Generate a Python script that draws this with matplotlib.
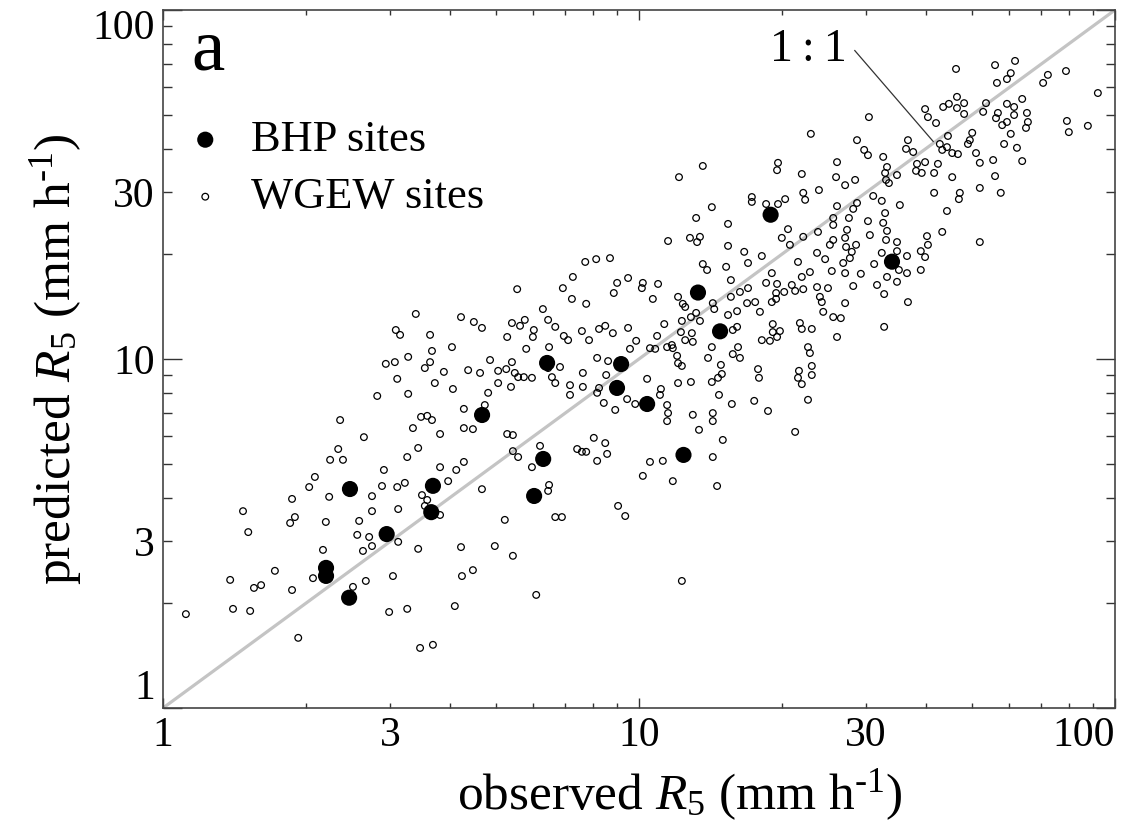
import matplotlib
matplotlib.use("Agg")
import matplotlib.pyplot as plt
import numpy as np

plt.rcParams["font.family"] = ["Liberation Serif", "DejaVu Serif"]
plt.rcParams["mathtext.fontset"] = "custom"
plt.rcParams["mathtext.rm"] = "Liberation Serif"
plt.rcParams["mathtext.it"] = "Liberation Serif:italic"

# BHP sites, R5 in mm/h
bhp_obs = [2.47, 2.20, 2.20, 2.46, 2.95, 3.66, 3.69, 4.68, 6.02, 6.29,
           6.41, 8.99, 9.17, 10.4, 12.4, 13.3, 14.8, 18.9, 34.0]
bhp_pred = [4.24, 2.52, 2.39, 2.07, 3.15, 3.64, 4.33, 6.91, 4.05, 5.17,
            9.74, 8.26, 9.67, 7.43, 5.31, 15.5, 12.0, 25.9, 19.0]

# WGEW sites, log10 of R5 (mm/h)
wgew_log_obs = [
    0.048, 0.147, 0.183, 0.284, 0.475, 0.513, 0.540, 0.567, 0.613,
    0.372, 0.422, 0.368, 0.351, 0.378, 0.319, 0.307, 0.349, 0.271, 0.277,
    0.267, 0.342, 0.168, 0.179, 0.336, 0.315, 0.235, 0.141, 0.191, 0.206,
    0.271, 0.399, 0.426, 0.483, 0.628, 0.651, 0.536, 0.494, 0.439, 0.420,
    0.408, 0.433, 0.412, 0.439, 0.494, 0.439, 0.460, 0.492, 0.508, 0.464,
    0.513, 0.536, 0.525, 0.542, 0.555, 0.565, 0.582, 0.632, 0.632, 0.651,
    0.676, 0.723, 0.632, 0.616, 0.582, 0.599, 0.544, 0.555, 0.582, 0.550,
    0.670, 0.626, 0.697, 0.718,
    0.531, 0.626, 0.653, 0.670, 0.489, 0.498, 0.561, 0.607, 0.565, 0.515,
    0.487, 0.468, 0.561, 0.550, 0.590, 0.641, 0.666, 0.687, 0.492, 0.571,
    0.609, 0.683, 0.450, 0.515, 0.704, 0.704,
    0.887, 0.910, 0.939, 1.134, 1.143, 1.183, 1.229, 1.258, 1.221, 1.334,
    1.374, 1.391, 1.429, 1.433, 1.405, 1.359, 1.342,
    0.744, 0.840, 0.861, 0.859, 0.889, 0.798, 0.809, 0.947, 0.954, 0.977,
    1.008, 1.006, 1.040, 1.029, 1.082, 1.092, 1.097, 1.120, 1.109, 1.128,
    1.155, 1.158, 1.193, 1.193, 1.187, 1.206, 1.212, 1.229, 1.227, 1.244,
    1.254, 1.267, 1.279, 1.290, 1.288, 1.288, 1.279, 1.305, 1.321, 1.328,
    1.345, 1.374, 1.380, 1.384, 1.397, 1.387, 1.408, 1.424, 1.433,
    0.733, 0.750, 0.760, 0.779, 0.777, 0.723, 0.763, 0.733, 0.811, 0.824,
    0.842, 0.851, 0.880, 0.895, 0.916, 0.929, 0.945, 0.977, 0.994, 0.981,
    0.912, 0.935, 1.038, 1.023, 1.034, 1.059, 1.069, 1.071, 1.053, 1.090,
    1.088, 1.111, 1.097, 1.113, 1.080, 1.082, 1.090, 1.145, 1.153, 1.172,
    1.174, 1.166, 1.206, 1.197, 1.208, 1.197, 1.212, 1.250, 1.252, 1.258,
    1.275, 1.281, 1.281, 1.296, 1.290, 1.338, 1.342, 1.363, 1.355, 1.359,
    1.363, 1.363, 1.336, 1.334, 1.342, 1.355, 1.416,
    0.721, 0.739, 0.746, 0.758, 0.775, 0.731, 0.809, 0.817, 0.824, 0.834,
    0.855, 0.855, 0.882, 0.882, 0.916, 0.912, 0.926, 0.931, 0.950, 0.975,
    0.992, 1.017, 1.046, 1.044, 1.059, 1.061, 1.059, 1.082, 1.109, 1.113,
    1.126, 1.153, 1.155, 1.155, 1.168, 1.195, 1.176, 1.155, 1.164, 1.242,
    1.271, 1.328, 0.735, 0.735, 0.746, 0.775, 0.792, 0.811, 0.809, 0.870,
    0.880, 0.889, 0.905, 0.929, 0.933, 0.912, 1.023, 1.050, 1.008, 1.071,
    0.956, 0.971, 0.824, 0.838,
    0.735, 0.784, 1.090,
    1.361, 1.292, 1.290, 1.342, 1.416, 1.414, 1.433, 1.134, 1.084, 1.378,
    1.345, 1.349, 1.307, 1.237, 1.237, 1.267, 1.292, 1.153, 1.120, 1.187,
    1.416, 1.408, 1.408, 1.313, 1.300, 1.345, 1.376, 1.433, 1.437, 1.061,
    1.107, 1.128, 1.122, 1.187, 1.317,
    1.408, 1.401, 1.485, 1.521, 1.519, 1.542, 1.605, 1.637, 1.607, 1.592,
    1.601, 1.716, 1.435, 1.456, 1.447, 1.443, 1.466, 1.494, 1.510, 1.542,
    1.563, 1.546, 1.563, 1.592, 1.521, 1.542, 1.500, 1.450, 1.515, 1.565,
    1.515,
    1.666, 1.748, 1.790, 1.781, 1.773, 1.752, 1.859, 1.849, 1.897, 1.964,
    1.483, 1.601, 1.607, 1.624, 1.639, 1.651, 1.668, 1.668, 1.683, 1.683,
    1.723, 1.729, 1.754, 1.750, 1.763, 1.773, 1.773, 1.788, 1.788, 1.805,
    1.815, 1.817, 1.813, 1.781, 1.794, 1.805, 1.899, 1.903, 1.943, 1.649,
    1.647, 1.637, 1.658, 1.670, 1.632, 1.700, 1.695, 1.691, 1.708, 1.716,
    1.744, 1.767, 1.748, 1.760, 1.716, 1.674, 1.672, 1.647, 1.620, 1.658,
    1.628, 1.620, 1.601, 1.584, 1.594, 1.576, 1.561, 1.565, 1.582, 1.542,
    1.548, 1.521, 1.517, 1.519, 1.525, 1.513, 1.492, 1.510, 1.517, 1.513,
    1.481, 1.458, 1.450, 1.441, 1.454, 1.458, 1.473, 1.481,
]
wgew_log_pred = [
    0.269, 0.284, 0.278, 0.201, 0.275, 0.284, 0.172, 0.181, 0.292,
    0.825, 0.776, 0.742, 0.711, 0.711, 0.662, 0.633, 0.605, 0.599, 0.547,
    0.530, 0.533, 0.564, 0.504, 0.453, 0.372, 0.393, 0.367, 0.344, 0.352,
    0.338, 0.347, 0.364, 0.378, 0.378, 0.395, 0.456, 0.476, 0.464, 0.450,
    0.496, 0.490, 0.536, 0.564, 0.570, 0.607, 0.636, 0.633, 0.645, 0.682,
    0.719, 0.745, 0.802, 0.834, 0.837, 0.825, 0.785, 0.857, 0.802, 0.799,
    0.868, 0.785, 0.705, 0.682, 0.690, 0.650, 0.610, 0.596, 0.553, 0.579,
    0.627, 0.461, 0.464, 0.539,
    1.129, 1.120, 1.106, 1.089, 1.083, 1.069, 1.069, 1.034, 1.023, 1.006,
    0.991, 0.986, 0.991, 0.974, 0.963, 0.968, 0.960, 0.997, 0.943, 0.931,
    0.914, 0.903, 0.894, 0.900, 0.966, 0.931,
    1.278, 1.286, 1.289, 1.272, 1.255, 1.264, 1.275, 1.295, 1.307, 1.278,
    1.304, 1.286, 1.275, 1.246, 1.252, 1.249, 1.235,
    1.200, 1.203, 1.235, 1.172, 1.158, 1.143, 1.112, 1.189, 1.218, 1.232,
    1.218, 1.203, 1.215, 1.172, 1.178, 1.158, 1.149, 1.132, 1.120, 1.109,
    1.160, 1.143, 1.226, 1.178, 1.126, 1.137, 1.192, 1.203, 1.160, 1.163,
    1.135, 1.218, 1.246, 1.215, 1.189, 1.172, 1.163, 1.192, 1.212, 1.195,
    1.200, 1.206, 1.178, 1.163, 1.203, 1.135, 1.120, 1.117, 1.160,
    1.103, 1.095, 1.112, 1.083, 1.063, 1.063, 1.029, 0.991, 1.034, 1.092,
    1.066, 1.054, 1.080, 1.054, 1.086, 1.095, 1.074, 1.089, 1.052, 1.029,
    1.003, 0.994, 1.066, 1.031, 1.029, 1.034, 1.040, 1.031, 1.100, 1.109,
    1.077, 1.074, 1.054, 1.049, 1.009, 0.988, 0.980, 1.003, 1.034, 0.983,
    0.957, 0.946, 1.092, 1.083, 1.034, 1.014, 1.003, 0.971, 0.946, 1.054,
    1.052, 1.100, 1.077, 1.080, 1.063, 1.103, 1.086, 1.086, 1.034, 1.017,
    0.980, 0.954, 0.966, 0.946, 0.928, 0.883, 1.063,
    0.971, 0.960, 0.948, 0.948, 0.946, 0.920, 0.974, 0.948, 0.931, 0.977,
    0.925, 0.897, 0.920, 0.960, 0.917, 0.903, 0.874, 0.954, 0.854, 0.885,
    0.871, 0.943, 0.914, 0.897, 0.868, 0.845, 0.822, 0.931, 0.934, 0.840,
    0.797, 0.934, 0.845, 0.822, 0.897, 0.871, 0.768, 0.719, 0.636, 0.880,
    0.851, 0.791, 0.782, 0.736, 0.719, 0.690, 0.751, 0.639, 0.622, 0.742,
    0.734, 0.734, 0.774, 0.759, 0.728, 0.708, 0.705, 0.708, 0.665, 0.650,
    0.579, 0.550, 0.547, 0.547,
    0.436, 0.324, 0.364,
    1.645, 1.562, 1.541, 1.530, 1.564, 1.521, 1.498, 1.553, 1.521, 1.484,
    1.476, 1.456, 1.458, 1.464, 1.450, 1.444, 1.444, 1.435, 1.404, 1.387,
    1.438, 1.404, 1.384, 1.372, 1.347, 1.350, 1.364, 1.347, 1.370, 1.338,
    1.347, 1.350, 1.335, 1.324, 1.327,
    1.341, 1.327, 1.355, 1.367, 1.341, 1.335, 1.352, 1.364, 1.327, 1.309,
    1.292, 1.335, 1.321, 1.327, 1.307, 1.289, 1.244, 1.272, 1.304, 1.309,
    1.295, 1.255, 1.246, 1.255, 1.235, 1.221, 1.212, 1.209, 1.186, 1.163,
    1.092,
    1.831, 1.842, 1.854, 1.819, 1.802, 1.791, 1.814, 1.791, 1.825, 1.762,
    1.693, 1.716, 1.693, 1.676, 1.722, 1.731, 1.751, 1.719, 1.733, 1.702,
    1.708, 1.733, 1.705, 1.690, 1.670, 1.679, 1.731, 1.722, 1.699, 1.745,
    1.705, 1.679, 1.662, 1.645, 1.605, 1.567, 1.682, 1.650, 1.668, 1.639,
    1.607, 1.599, 1.590, 1.587, 1.616, 1.648, 1.627, 1.616, 1.590, 1.562,
    1.570, 1.616, 1.524, 1.476, 1.490, 1.476, 1.458, 1.424, 1.476, 1.521,
    1.559, 1.533, 1.564, 1.559, 1.533, 1.593, 1.602, 1.627, 1.539, 1.527,
    1.441, 1.550, 1.533, 1.513, 1.504, 1.579, 1.467, 1.453, 1.418, 1.390,
    1.395, 1.447, 1.430, 1.404, 1.513, 1.627, 1.599, 1.584,
]

major_ticks = [1, 10, 100]
major_labels = ["1", "10", "100"]
minor_ticks = [2, 3, 4, 5, 6, 7, 8, 9, 20, 30, 40, 50, 60, 70, 80, 90]
minor_labels = ["", "3", "", "", "", "", "", "", "", "30", "", "", "", "", "", ""]

wgew_obs = 10 ** np.array(wgew_log_obs)
wgew_pred = 10 ** np.array(wgew_log_pred)

fig = plt.figure(figsize=(11.45, 8.30), dpi=100)
ax = fig.add_axes([0.1424, 0.1470, 0.8314, 0.8410])
ax.set_xscale("log")
ax.set_yscale("log")
ax.set_xlim(1, 100)
ax.set_ylim(1, 100)

# 1:1 line
ax.plot([1, 100], [1, 100], color="#c4c4c4", lw=2.3, zorder=1)

ax.scatter(wgew_obs, wgew_pred, s=23, facecolors="none", edgecolors="black",
           linewidths=0.9, zorder=2, label="WGEW sites")
ax.scatter(bhp_obs, bhp_pred, s=135, color="black", edgecolors="none",
           zorder=3, label="BHP sites")

for axis in (ax.xaxis, ax.yaxis):
    axis.set_ticks(major_ticks, labels=major_labels)
    axis.set_ticks(minor_ticks, labels=minor_labels, minor=True)

ax.tick_params(which="both", direction="in", top=True, right=True,
               labelsize=30, color="#333333", width=1.0)
ax.tick_params(axis="y", which="major", length=14, pad=6)
ax.tick_params(axis="y", which="minor", length=6.5, pad=6)
ax.tick_params(axis="x", which="major", length=7, pad=6)
ax.tick_params(axis="x", which="minor", length=3.6, pad=6)

# edge labels pulled inside the frame like the original
xl = ax.get_xticklabels()
xl[-1].set_horizontalalignment("right")
yl = ax.get_yticklabels()
yl[-1].set_verticalalignment("top")
yl[0].set_verticalalignment("bottom")

for sp in ax.spines.values():
    sp.set_color("#444444")
    sp.set_linewidth(1.2)

ax.set_xlabel("observed $R_5$ (mm h$^{\\mathrm{\u2010}1}$)", fontsize=37)
ax.set_ylabel("predicted $R_5$ (mm h$^{\\mathrm{\u2010}1}$)", fontsize=37)
ax.xaxis.set_label_coords(0.543, -0.085)
ax.yaxis.set_label_coords(-0.083, 0.50)

ax.text(0.030, 0.914, "a", transform=ax.transAxes, fontsize=54,
        ha="left", va="baseline")

# 1:1 label with leader
ax.text(27.3, 77, "1\u2009:\u20091", fontsize=33, ha="right", va="center")
ax.plot([28.4, 41.5], [76.5, 42.0], color="#333333", lw=0.9, zorder=1)

handles, labels = ax.get_legend_handles_labels()
leg = ax.legend(handles[::-1], labels[::-1], loc="upper left",
                bbox_to_anchor=(0.021, 0.842), frameon=False, fontsize=32,
                borderpad=0, borderaxespad=0, handlelength=1.0,
                handletextpad=0.52, labelspacing=0.38, scatterpoints=1)

fig.savefig("out.png", dpi=100)
